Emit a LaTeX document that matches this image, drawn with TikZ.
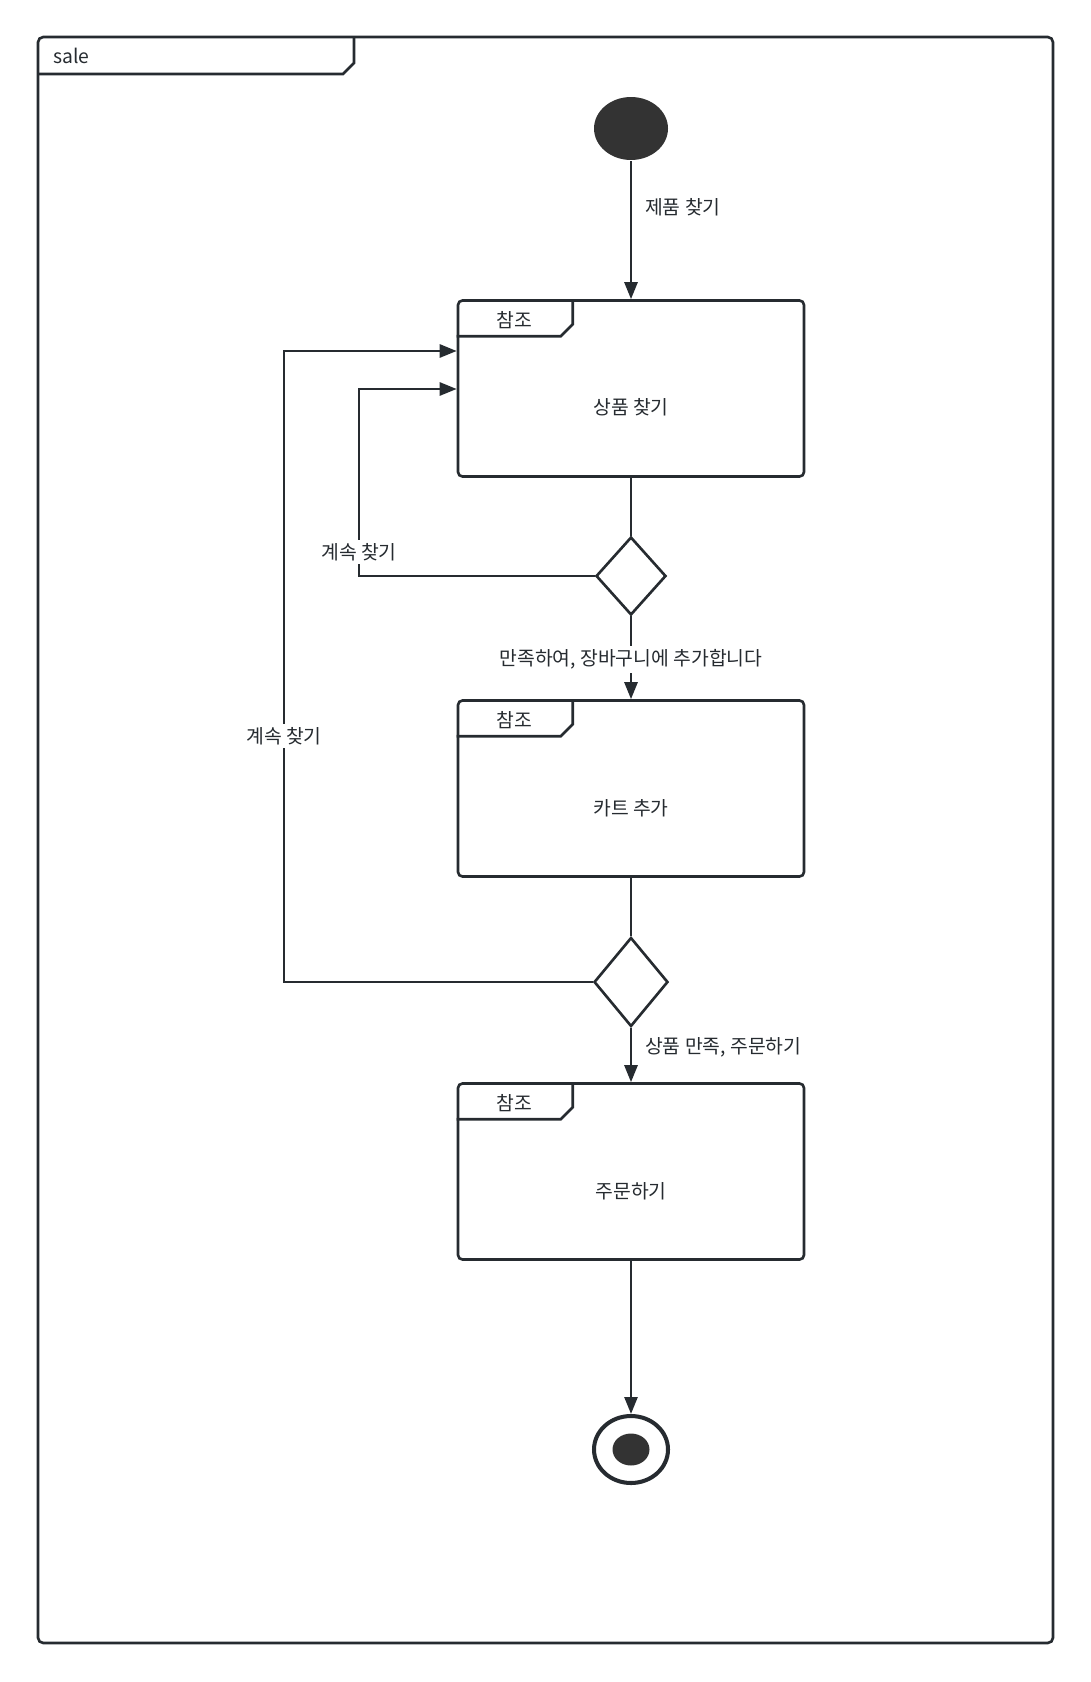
\documentclass[tikz,border=0pt]{standalone}
\usepackage{fontspec}
\setmainfont{Noto Sans CJK KR}
\usepackage{tikz}
\usetikzlibrary{arrows.meta,shapes.geometric,calc}
\definecolor{umlline}{RGB}{38,43,48}
\definecolor{umlfill}{RGB}{51,51,51}

\begin{document}
\begin{tikzpicture}[x=0.02cm, y=-0.02cm, line width=1.5pt, color=umlline,
    font=\fontsize{11pt}{13pt}\selectfont,
    refbox/.style={draw, rectangle, rounded corners=2.5pt, minimum width=6.92cm, minimum height=3.52cm, inner sep=0pt, text height=1.16cm, text depth=0.1cm},
    choice/.style={draw, diamond, inner sep=0pt},
    flow/.style={-{Triangle[length=3.4mm,width=2.6mm]}},
    guard/.style={fill=white, inner sep=2pt}]
        \useasboundingbox (0,0) rectangle (1090,1682);

        % frame
        \draw[rounded corners=3pt] (38,37) rectangle (1053,1643);
        \draw (38,74) -- (343,74) -- (354,63) -- (354,37);
        \node[anchor=west] (framename) at (46,56) {sale};

        % nodes
        \node[ellipse, fill=umlfill, inner sep=0pt, minimum width=1.48cm, minimum height=1.26cm] (start) at (631,128.5) {};
        \node[refbox] (b1) at (631,388.5) {상품 찾기};
        \node[choice, minimum width=1.4cm, minimum height=1.56cm] (d1) at (631,576) {};
        \node[refbox] (b2) at (631,788.5) {카트 추가};
        \node[choice, minimum width=1.48cm, minimum height=1.78cm] (d2) at (631,982) {};
        \node[refbox] (b3) at (631,1171.5) {주문하기};
        \node[ellipse, draw, line width=2.3pt, inner sep=0pt, minimum width=1.48cm, minimum height=1.34cm] (stop) at (631,1449.5) {};
        \node[ellipse, fill=umlfill, inner sep=0pt, minimum width=0.74cm, minimum height=0.64cm] (stopdot) at (stop) {};

        % ref tabs
        \foreach \b in {b1,b2,b3}{
            \draw (\b.north west) ++(0,37) -- ++(104,0) -- ++(12,-12) -- ++(0,-25);
            \node (tag\b) at ($(\b.north west)+(58,21)$) {참조};
        }

        % flows
        \draw[flow] (start) -- (b1) node[right, pos=0.33, xshift=0.14cm] (g0) {제품 찾기};
        \draw (b1) -- (d1);
        \draw[flow] (d1) -- (b2) node[guard, pos=0.52] (g1) {만족하여, 장바구니에 추가합니다};
        \draw (b2) -- (d2);
        \draw[flow] (d2) -- (b3) node[right, pos=0.36, xshift=0.14cm] (g2) {상품 만족, 주문하기};
        \draw[flow] (b3) -- (stop);

        % loops back
        \coordinate (k1) at (359,389);
        \coordinate (k2) at (284,351);
        \draw[flow] (d1.west) -| (k1) -- (b1.west |- k1);
        \draw[flow] (d2.west) -| (k2) -- (b1.west |- k2);
        \node[guard] (g3) at (359,552) {계속 찾기};
        \node[guard] (g4) at (284,736) {계속 찾기};
\end{tikzpicture}
\end{document}
